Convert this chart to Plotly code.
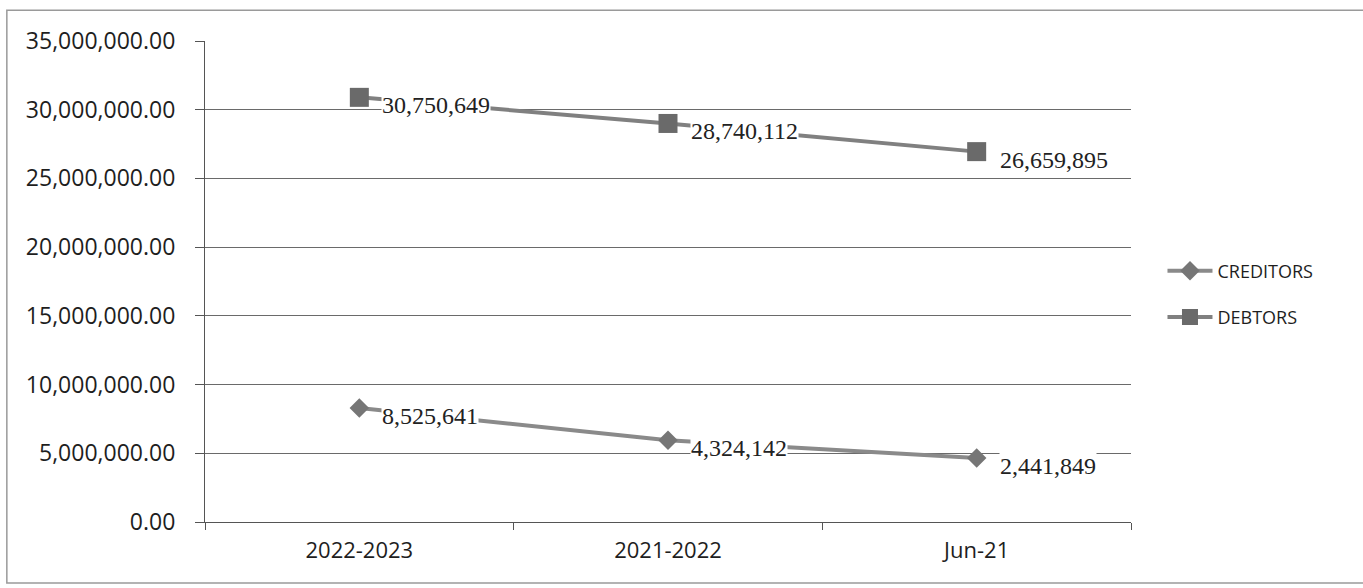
import plotly.graph_objects as go

# Categories (x axis)
periods = ["2022-2023", "2021-2022", "Jun-21"]

# Positions of the points
creditors_values = [8_300_000, 5_950_000, 4_650_000]
debtors_values = [30_900_000, 29_000_000, 26_950_000]

# Data labels as printed on the chart
creditors_labels = ["8,525,641", "4,324,142", "2,441,849"]
debtors_labels = ["30,750,649", "28,740,112", "26,659,895"]

y_ticks = [0, 5_000_000, 10_000_000, 15_000_000, 20_000_000, 25_000_000, 30_000_000, 35_000_000]

fig = go.Figure()

fig.add_trace(go.Scatter(
    x=periods, y=creditors_values, name="CREDITORS", mode="lines+markers",
    line=dict(color="#8a8a8a", width=4),
    marker=dict(symbol="diamond", size=15, color="#767676"),
    legendgroup="c",
))
fig.add_trace(go.Scatter(
    x=periods, y=debtors_values, name="DEBTORS", mode="lines+markers",
    line=dict(color="#808080", width=4),
    marker=dict(symbol="square", size=19, color="#6a6a6a"),
    legendgroup="d",
))

annotations = []
for vals, labs in ((creditors_values, creditors_labels), (debtors_values, debtors_labels)):
    for xc, yv, t in zip(periods, vals, labs):
        annotations.append(dict(
            x=xc, y=yv, xref="x", yref="y", text=t, showarrow=False,
            xanchor="left", yanchor="middle", xshift=22, yshift=-8,
            font=dict(family="Liberation Serif", size=24, color="#222222"),
            bgcolor="white", borderpad=0,
        ))

fig.update_layout(
    width=1363, height=588,
    margin=dict(l=205, r=232, t=41, b=66),
    paper_bgcolor="white", plot_bgcolor="white",
    font=dict(family="Open Sans", color="#1e1e1e"),
    annotations=annotations,
    legend=dict(
        x=1.034, y=0.474, xanchor="left", yanchor="middle",
        font=dict(family="Open Sans", size=18, color="#1e1e1e"),
        traceorder="grouped", tracegroupgap=20, itemwidth=45,
        bgcolor="rgba(0,0,0,0)",
    ),
    shapes=[dict(
        type="rect", xref="paper", yref="paper",
        x0=-0.214, x1=1.6, y0=-0.127, y1=1.064,
        line=dict(color="#9a9a9a", width=1.5), fillcolor="rgba(0,0,0,0)",
        layer="below",
    )],
)

fig.update_xaxes(
    type="category", range=[-0.5, 2.5],
    showline=True, linecolor="#555555", linewidth=1.2,
    ticks="outside", tickson="boundaries", ticklen=7, tickcolor="#555555",
    tickfont=dict(family="Open Sans", size=22, color="#1e1e1e"),
    ticklabelstandoff=8, showgrid=False, zeroline=False,
)
fig.update_yaxes(
    range=[0, 35_000_000], tickvals=y_ticks, tickformat=",.2f",
    showline=True, linecolor="#555555", linewidth=1.2,
    ticks="outside", ticklen=9, tickcolor="#555555",
    showgrid=True, gridcolor="#6a6a6a", gridwidth=1.2, zeroline=False,
    tickfont=dict(family="Open Sans", size=23, color="#1e1e1e"),
    ticklabelstandoff=15,
)

fig.write_html("out.html")
